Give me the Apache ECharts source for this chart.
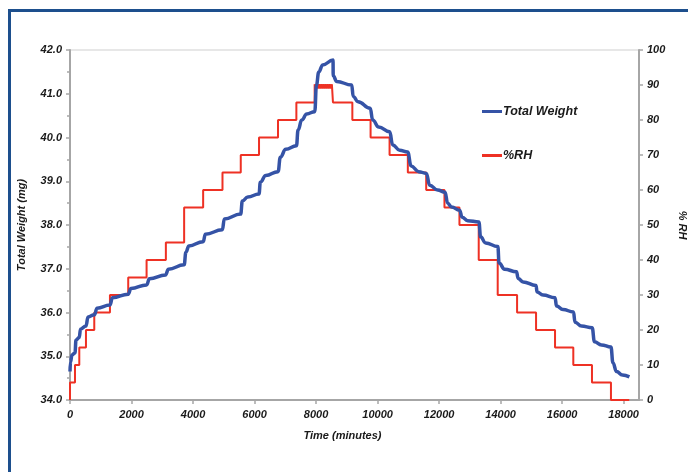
<!DOCTYPE html>
<html><head><meta charset="utf-8">
<script src="https://cdn.jsdelivr.net/npm/echarts@6/dist/echarts.min.js"></script>
<style>
html,body{margin:0;padding:0;background:#fff;}
#frame{position:absolute;left:8px;top:9px;width:700px;height:500px;border-top:3px solid #1d4f8d;border-left:3px solid #1d4f8d;}
#chart{position:absolute;left:0;top:0;width:688px;height:472px;}
</style></head>
<body>
<div id="frame"></div>
<div id="chart"></div>
<script>
// Total Weight (mg) vs time (minutes)
const weightTime = [0,16,65,162,195,300,341,520,585,796,877,1299,1380,1894,1981,2491,2582,3108,3199,3712,3768,3865,4330,4401,4953,5018,5550,5603,5781,6146,6188,6366,6766,6837,7016,7363,7415,7535,7698,7958,8013,8088,8217,8552,8558,8672,9159,9208,9364,9760,9841,10036,10394,10491,10718,10978,11092,11336,11586,11693,11953,12196,12277,12407,12667,12748,12927,13294,13349,13512,13911,13950,14129,14519,14568,14730,15152,15185,15380,15769,15818,16029,16370,16419,16630,16977,17052,17279,17588,17653,17767,17961,18188];
const weightValues = [34.65,34.87,35.03,35.08,35.37,35.43,35.62,35.69,35.90,35.95,36.10,36.17,36.34,36.42,36.55,36.63,36.77,36.86,36.99,37.09,37.38,37.52,37.62,37.79,37.89,38.14,38.25,38.55,38.64,38.71,38.98,39.13,39.22,39.55,39.73,39.81,40.17,40.40,40.54,40.59,41.20,41.50,41.66,41.77,41.41,41.28,41.20,40.94,40.82,40.67,40.40,40.24,40.13,39.83,39.71,39.67,39.35,39.22,39.18,38.91,38.80,38.75,38.50,38.41,38.34,38.18,38.10,38.07,37.73,37.59,37.51,37.13,36.99,36.93,36.78,36.70,36.62,36.47,36.40,36.34,36.15,36.07,36.01,35.78,35.69,35.65,35.33,35.26,35.21,34.85,34.65,34.57,34.53];
// %RH set-point steps: time at which each level starts (the 90 % step is drawn as a noisy thick band)
const rhTime = [0,0,162,302,519,789,1299,1893,2490,3117,3711,4329,4958,5552,6146,6763,7360,7955,7990,8025,8060,8095,8130,8165,8200,8235,8270,8305,8340,8375,8410,8445,8480,8515,8550,9180,9773,10390,10984,11581,12175,12662,13289,13906,14536,15153,15770,16364,16971,17588,18182];
const rhValues = [0,5,10,15,20,25,30,35,40,45,55,60,65,70,75,80,85,90.2,89.0,90.2,89.0,90.2,89.0,90.2,89.0,90.2,89.0,90.2,89.0,90.2,89.0,90.2,89.0,90.2,85,80,75,70,65,60,55,50,40,30,25,20,15,10,5,0,0];
const xTicks = {min:0, max:18500, interval:2000};
const leftTicks = {min:34, max:42, interval:1};
const rightTicks = {min:0, max:100, interval:10};

const weightData = weightTime.map((t,i)=>[t, weightValues[i]]);
const rhData = rhTime.map((t,i)=>[t, rhValues[i]]);

const font = {fontFamily:'Liberation Sans, Arial, sans-serif', fontWeight:'bold', fontStyle:'italic', fontSize:11, color:'#1a1a1a'};
const axisLine = {show:true, lineStyle:{color:'#a6a6a6', width:2}};
const tickStyle = {show:true, length:4, lineStyle:{color:'#a6a6a6', width:1.5}};

const chart = echarts.init(document.getElementById('chart'), null, {renderer:'canvas'});
chart.setOption({
  animation:false,
  backgroundColor:'transparent',
  grid:{left:70, right:49, top:50, bottom:72, show:true, borderColor:'#cfcfcf', borderWidth:1, containLabel:false, outerBoundsMode:'none'},
  legend:{
    orient:'vertical', left:477, top:100, itemGap:31, itemWidth:20, itemHeight:3, icon:'rect',
    textStyle:Object.assign({}, font, {fontSize:12.5, padding:[0,0,0,-4]}),
    data:['Total Weight','%RH']
  },
  xAxis:{
    type:'value', min:xTicks.min, max:xTicks.max, interval:xTicks.interval,
    name:'Time (minutes)', nameLocation:'middle', nameGap:30,
    nameTextStyle:Object.assign({}, font, {padding:[0,24,0,0]}),
    axisLine:axisLine, axisTick:tickStyle, splitLine:{show:false},
    axisLabel:Object.assign({}, font, {margin:9, showMaxLabel:false, formatter:v=>String(v)})
  },
  yAxis:[{
    type:'value', min:leftTicks.min, max:leftTicks.max, interval:leftTicks.interval, position:'left',
    name:'Total Weight (mg)', nameLocation:'middle', nameGap:43,
    nameTextStyle:font,
    axisLine:axisLine, axisTick:tickStyle, splitLine:{show:false},
    minorTick:{show:true, splitNumber:2, length:3, lineStyle:{color:'#a6a6a6', width:1.5}},
    axisLabel:Object.assign({}, font, {margin:8, formatter:v=>v.toFixed(1)})
  },{
    type:'value', min:rightTicks.min, max:rightTicks.max, interval:rightTicks.interval, position:'right',
    name:'% RH', nameLocation:'middle', nameGap:27, nameRotate:-90,
    nameTextStyle:font,
    axisLine:axisLine, axisTick:tickStyle, splitLine:{show:false},
    axisLabel:Object.assign({}, font, {margin:8})
  }],
  series:[{
    name:'%RH', type:'line', yAxisIndex:1, step:'end', data:rhData,
    showSymbol:false, symbol:'none', color:'#ee3124',
    lineStyle:{color:'#ee3124', width:2}, z:2
  },{
    name:'Total Weight', type:'line', yAxisIndex:0, data:weightData,
    showSymbol:false, symbol:'none', smooth:0.45, smoothMonotone:'x', color:'#3553a6',
    lineStyle:{color:'#3553a6', width:3.5}, z:3
  }]
});
</script>
</body></html>
